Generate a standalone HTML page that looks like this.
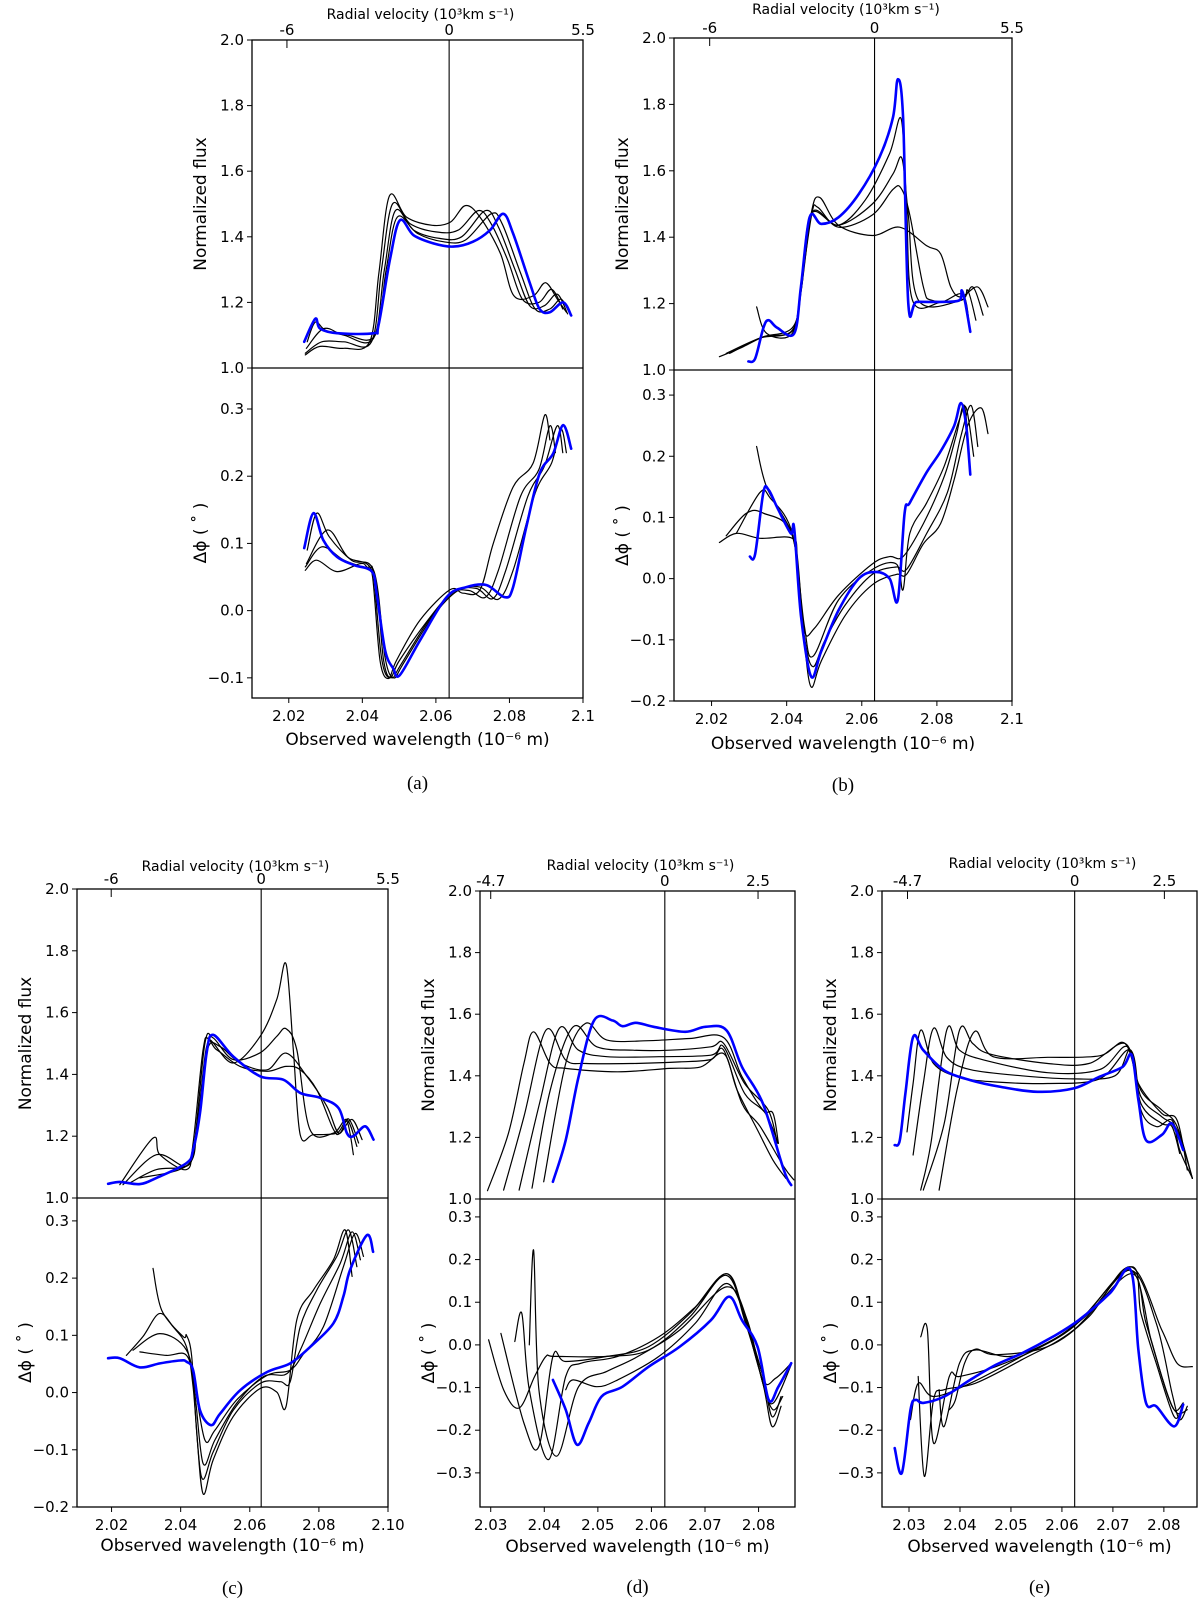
<!DOCTYPE html>
<html><head><meta charset="utf-8">
<style>
html,body{margin:0;padding:0;background:#fff;}
svg{display:block;font-family:"DejaVu Sans","Liberation Sans",sans-serif;}
.tk{font-size:15px;fill:#000;}
.al{font-size:17px;fill:#000;}
.tt{font-size:14px;fill:#000;}
.cap{font-family:"Liberation Serif",serif;font-size:19px;fill:#000;}
</style></head>
<body>
<svg id="fig" width="1200" height="1605" viewBox="0 0 1200 1605" xmlns="http://www.w3.org/2000/svg"></svg>
<script>
// ---------- Panel (a) ----------
const aFluxBlue=[[2.0242,1.08],[2.0272,1.15],[2.0285,1.12],[2.0331,1.106],[2.043,1.106],[2.0444,1.13],[2.0475,1.33],[2.0502,1.45],[2.0539,1.405],[2.0593,1.38],[2.0647,1.37],[2.0701,1.385],[2.0747,1.42],[2.0783,1.47],[2.081,1.41],[2.0855,1.26],[2.0882,1.18],[2.091,1.17],[2.0946,1.2],[2.0968,1.16]];
const aFluxBlack=[
[[2.0245,1.04],[2.0285,1.066],[2.035,1.06],[2.042,1.08],[2.0445,1.29],[2.0474,1.525],[2.052,1.46],[2.059,1.435],[2.064,1.445],[2.068,1.495],[2.072,1.46],[2.0775,1.35],[2.0812,1.22],[2.0865,1.22],[2.0898,1.26],[2.093,1.21],[2.0955,1.17]],
[[2.0245,1.045],[2.029,1.08],[2.035,1.08],[2.0425,1.08],[2.0452,1.3],[2.0482,1.5],[2.053,1.44],[2.06,1.415],[2.066,1.42],[2.0715,1.48],[2.075,1.44],[2.0795,1.33],[2.0835,1.21],[2.088,1.2],[2.0915,1.24],[2.0945,1.18]],
[[2.0248,1.06],[2.0295,1.12],[2.035,1.10],[2.043,1.09],[2.046,1.3],[2.049,1.48],[2.054,1.42],[2.061,1.395],[2.067,1.40],[2.0735,1.48],[2.077,1.43],[2.0815,1.30],[2.0855,1.19],[2.0895,1.19],[2.093,1.225],[2.0958,1.165]],
[[2.025,1.08],[2.0272,1.14],[2.03,1.115],[2.036,1.10],[2.0435,1.10],[2.0465,1.3],[2.0495,1.46],[2.055,1.41],[2.062,1.385],[2.068,1.39],[2.075,1.47],[2.078,1.44],[2.083,1.29],[2.087,1.18],[2.091,1.18],[2.094,1.21],[2.0962,1.17]]];
const aPhaseBlue=[[2.0242,0.093],[2.0267,0.145],[2.0294,0.105],[2.0331,0.08],[2.0376,0.068],[2.0426,0.058],[2.0439,0.025],[2.0462,-0.059],[2.0484,-0.086],[2.0502,-0.096],[2.0557,-0.044],[2.0629,0.02],[2.0683,0.035],[2.0738,0.038],[2.0787,0.02],[2.081,0.035],[2.0846,0.125],[2.0882,0.204],[2.0919,0.234],[2.0946,0.276],[2.0968,0.241]];
const aPhaseBlack=[
[[2.0245,0.06],[2.0276,0.075],[2.0331,0.058],[2.0394,0.07],[2.0412,0.065],[2.0428,0.05],[2.0448,-0.074],[2.0471,-0.101],[2.0493,-0.074],[2.0557,-0.014],[2.0638,0.031],[2.0674,0.026],[2.072,0.031],[2.0756,0.1],[2.081,0.184],[2.0864,0.219],[2.0896,0.291],[2.091,0.254]],
[[2.0245,0.065],[2.029,0.095],[2.035,0.075],[2.0415,0.062],[2.043,0.055],[2.0452,-0.07],[2.0475,-0.1],[2.05,-0.075],[2.057,-0.02],[2.064,0.025],[2.069,0.03],[2.0735,0.02],[2.077,0.06],[2.083,0.17],[2.088,0.21],[2.091,0.275],[2.0925,0.235]],
[[2.0248,0.07],[2.0305,0.12],[2.036,0.08],[2.043,0.055],[2.0458,-0.075],[2.048,-0.1],[2.0505,-0.08],[2.058,-0.015],[2.065,0.028],[2.071,0.033],[2.0755,0.018],[2.079,0.06],[2.085,0.17],[2.0895,0.215],[2.093,0.275],[2.0945,0.235]],
[[2.025,0.09],[2.0276,0.145],[2.031,0.11],[2.037,0.075],[2.0432,0.058],[2.0462,-0.07],[2.0485,-0.1],[2.051,-0.08],[2.059,-0.01],[2.066,0.03],[2.072,0.035],[2.077,0.017],[2.081,0.06],[2.087,0.175],[2.0915,0.22],[2.094,0.27],[2.0955,0.235]]];
// ---------- Panel (b) ----------
const bFluxBlue=[[2.0298,1.026],[2.0316,1.034],[2.0338,1.127],[2.0352,1.15],[2.0375,1.127],[2.042,1.11],[2.0438,1.25],[2.0461,1.46],[2.0492,1.44],[2.0538,1.46],[2.0592,1.53],[2.0647,1.64],[2.0683,1.76],[2.0696,1.876],[2.071,1.76],[2.0724,1.2],[2.0746,1.205],[2.081,1.205],[2.086,1.21],[2.0866,1.24],[2.0875,1.205],[2.0889,1.115]];
const bFluxBlack=[
[[2.0221,1.04],[2.0284,1.07],[2.0338,1.1],[2.0415,1.127],[2.0438,1.235],[2.0465,1.47],[2.0488,1.52],[2.0538,1.436],[2.0628,1.405],[2.0701,1.43],[2.0773,1.374],[2.081,1.35],[2.0837,1.25],[2.0864,1.22],[2.0909,1.25],[2.0936,1.19]],
[[2.0239,1.05],[2.0329,1.096],[2.0415,1.12],[2.0438,1.25],[2.0467,1.47],[2.0483,1.49],[2.0538,1.43],[2.0628,1.467],[2.0683,1.544],[2.0705,1.547],[2.0728,1.467],[2.0764,1.25],[2.0787,1.21],[2.0864,1.21],[2.0896,1.25],[2.0923,1.165]],
[[2.032,1.19],[2.0347,1.11],[2.0415,1.11],[2.0438,1.25],[2.0465,1.47],[2.0538,1.436],[2.061,1.513],[2.0674,1.652],[2.0705,1.756],[2.0719,1.5],[2.0735,1.21],[2.081,1.204],[2.0869,1.227],[2.0887,1.13]],
[[2.0248,1.05],[2.0338,1.1],[2.0417,1.12],[2.044,1.25],[2.0467,1.474],[2.0538,1.436],[2.0628,1.5],[2.0683,1.59],[2.0707,1.637],[2.0724,1.467],[2.0751,1.21],[2.0864,1.21],[2.0882,1.24],[2.0904,1.15]]];
const bPhaseBlue=[[2.0302,0.036],[2.0316,0.04],[2.0338,0.141],[2.0352,0.145],[2.0375,0.116],[2.0411,0.074],[2.042,0.082],[2.0438,-0.06],[2.0465,-0.16],[2.0492,-0.119],[2.0538,-0.052],[2.0592,0.0],[2.0637,0.011],[2.0674,0.0],[2.0696,-0.035],[2.0714,0.107],[2.0728,0.124],[2.0773,0.174],[2.081,0.208],[2.0846,0.25],[2.0864,0.287],[2.0878,0.25],[2.0889,0.17]];
const bPhaseBlack=[
[[2.0221,0.059],[2.0266,0.074],[2.0329,0.066],[2.0415,0.066],[2.0429,0.032],[2.0447,-0.102],[2.0465,-0.177],[2.0492,-0.135],[2.0556,-0.06],[2.0628,-0.01],[2.0692,0.007],[2.0719,0.007],[2.0764,0.057],[2.081,0.09],[2.0846,0.162],[2.0882,0.25],[2.0918,0.279],[2.0936,0.237]],
[[2.032,0.216],[2.0347,0.149],[2.0411,0.078],[2.0429,0.024],[2.0447,-0.085],[2.0474,-0.081],[2.0538,-0.027],[2.0628,0.024],[2.0674,0.036],[2.071,0.036],[2.0764,0.09],[2.0819,0.166],[2.0851,0.233],[2.0873,0.283],[2.0887,0.191]],
[[2.0239,0.07],[2.0293,0.107],[2.0338,0.107],[2.0415,0.07],[2.0447,-0.094],[2.047,-0.144],[2.0501,-0.102],[2.0556,-0.043],[2.0628,0.007],[2.0692,0.019],[2.0719,0.015],[2.0773,0.074],[2.0828,0.141],[2.0864,0.233],[2.0891,0.283],[2.0909,0.216]],
[[2.0266,0.074],[2.0329,0.141],[2.0356,0.132],[2.0415,0.074],[2.0447,-0.077],[2.047,-0.127],[2.0538,-0.035],[2.0628,0.015],[2.0692,0.024],[2.071,-0.018],[2.0728,0.074],[2.0773,0.124],[2.0819,0.183],[2.0859,0.258],[2.0878,0.279],[2.0898,0.2]]];
// ---------- Panel (c) ----------
const cFluxBlue=[[2.019,1.046],[2.0224,1.052],[2.0282,1.045],[2.033,1.065],[2.0417,1.113],[2.0436,1.156],[2.0456,1.275],[2.0475,1.469],[2.0494,1.528],[2.0552,1.458],[2.063,1.394],[2.0697,1.383],[2.0746,1.34],[2.0804,1.324],[2.0857,1.291],[2.0881,1.21],[2.09,1.2],[2.0934,1.232],[2.0958,1.189]];
const cFluxBlack=[
[[2.0224,1.043],[2.032,1.194],[2.034,1.14],[2.0417,1.092],[2.0436,1.178],[2.0465,1.48],[2.0485,1.512],[2.0552,1.437],[2.063,1.523],[2.0678,1.642],[2.0705,1.757],[2.0726,1.48],[2.0746,1.205],[2.0784,1.205],[2.0852,1.21],[2.0881,1.248],[2.09,1.14]],
[[2.0233,1.043],[2.033,1.14],[2.0417,1.103],[2.0441,1.19],[2.047,1.5],[2.0494,1.518],[2.0552,1.448],[2.063,1.47],[2.0678,1.523],[2.0705,1.548],[2.0736,1.48],[2.0774,1.222],[2.0842,1.21],[2.0881,1.254],[2.091,1.167]],
[[2.0253,1.049],[2.033,1.092],[2.0422,1.108],[2.0446,1.21],[2.0475,1.49],[2.0504,1.48],[2.0572,1.426],[2.065,1.41],[2.0705,1.426],[2.0746,1.415],[2.0794,1.35],[2.0842,1.222],[2.0862,1.21],[2.0896,1.254],[2.0925,1.189]],
[[2.0282,1.065],[2.0422,1.108],[2.0448,1.243],[2.0477,1.48],[2.0514,1.49],[2.0572,1.437],[2.065,1.415],[2.0705,1.469],[2.0765,1.394],[2.0823,1.297],[2.0857,1.21],[2.0886,1.256],[2.0915,1.178]]];
const cPhaseBlue=[[2.019,0.06],[2.0224,0.06],[2.0282,0.044],[2.034,0.051],[2.0398,0.056],[2.0417,0.054],[2.0436,0.039],[2.0456,-0.031],[2.0488,-0.057],[2.0514,-0.037],[2.0572,0.004],[2.065,0.036],[2.0717,0.051],[2.0775,0.08],[2.0842,0.121],[2.0871,0.168],[2.089,0.214],[2.0939,0.275],[2.0957,0.246]];
const cPhaseBlack=[
[[2.032,0.217],[2.0345,0.144],[2.0407,0.098],[2.0417,0.1],[2.0432,0.063],[2.0446,-0.066],[2.0465,-0.177],[2.0494,-0.118],[2.0552,-0.042],[2.063,0.007],[2.0678,0.001],[2.0705,-0.024],[2.0736,0.127],[2.0784,0.179],[2.0842,0.232],[2.0876,0.284],[2.0896,0.203]],
[[2.0243,0.065],[2.0291,0.098],[2.0338,0.138],[2.0378,0.115],[2.0417,0.08],[2.0436,0.01],[2.046,-0.147],[2.0494,-0.104],[2.0552,-0.031],[2.063,0.016],[2.0688,0.019],[2.0717,0.019],[2.0746,0.115],[2.0794,0.179],[2.0852,0.238],[2.0886,0.284],[2.091,0.22]],
[[2.0262,0.074],[2.034,0.103],[2.0417,0.074],[2.0441,-0.002],[2.0465,-0.124],[2.0499,-0.083],[2.0562,-0.019],[2.064,0.028],[2.0707,0.033],[2.0746,0.074],[2.0804,0.156],[2.0862,0.226],[2.0896,0.281],[2.092,0.232]],
[[2.0282,0.071],[2.0359,0.065],[2.0417,0.065],[2.0441,0.01],[2.047,-0.083],[2.0499,-0.066],[2.0562,-0.013],[2.065,0.03],[2.0717,0.039],[2.0756,0.068],[2.0813,0.115],[2.0871,0.22],[2.0905,0.278],[2.0929,0.238]]];
// ---------- Panel (d) ----------
const dFluxBlue=[[2.0416,1.056],[2.044,1.191],[2.0464,1.397],[2.0493,1.58],[2.0527,1.58],[2.0546,1.561],[2.0571,1.572],[2.0604,1.559],[2.0663,1.543],[2.0701,1.559],[2.074,1.548],[2.0769,1.429],[2.0808,1.31],[2.0847,1.094],[2.0861,1.045]];
const dFluxBlack=[
[[2.0294,1.027],[2.0333,1.213],[2.0362,1.44],[2.038,1.543],[2.0411,1.44],[2.044,1.424],[2.0537,1.413],[2.0634,1.424],[2.0692,1.429],[2.0735,1.472],[2.076,1.354],[2.0798,1.224],[2.0827,1.126],[2.0851,1.067]],
[[2.0324,1.029],[2.0362,1.267],[2.0403,1.548],[2.044,1.451],[2.0478,1.44],[2.0566,1.44],[2.0653,1.445],[2.0711,1.453],[2.0735,1.483],[2.0769,1.31],[2.0803,1.235],[2.0847,1.105],[2.0866,1.062]],
[[2.0353,1.029],[2.0391,1.31],[2.0428,1.554],[2.0464,1.483],[2.0517,1.462],[2.0614,1.462],[2.0711,1.467],[2.0735,1.494],[2.0774,1.343],[2.0813,1.278],[2.0837,1.181]],
[[2.0377,1.035],[2.0411,1.353],[2.0454,1.559],[2.0498,1.494],[2.0566,1.483],[2.0634,1.483],[2.0711,1.494],[2.0735,1.505],[2.0774,1.375],[2.0818,1.289],[2.0835,1.181]],
[[2.0399,1.056],[2.044,1.44],[2.0477,1.57],[2.0517,1.516],[2.0595,1.514],[2.0671,1.521],[2.0735,1.524],[2.0769,1.397],[2.0808,1.289],[2.0827,1.278],[2.0837,1.181]]];
const dPhaseBlue=[[2.0416,-0.082],[2.044,-0.152],[2.0461,-0.234],[2.0483,-0.183],[2.0507,-0.121],[2.0546,-0.098],[2.0595,-0.051],[2.0653,-0.004],[2.0711,0.058],[2.0745,0.113],[2.0769,0.058],[2.0798,-0.004],[2.0819,-0.129],[2.0837,-0.098],[2.0861,-0.043]];
const dPhaseBlack=[
[[2.0296,0.012],[2.0324,-0.105],[2.0353,-0.148],[2.0382,-0.074],[2.0403,-0.027],[2.042,-0.027],[2.0517,-0.027],[2.0595,-0.012],[2.0672,0.066],[2.074,0.167],[2.0774,0.066],[2.0808,-0.082],[2.0832,-0.078],[2.0861,-0.043]],
[[2.0319,0.027],[2.0362,-0.183],[2.039,-0.238],[2.0416,-0.027],[2.044,-0.039],[2.0517,-0.027],[2.0595,-0.004],[2.0672,0.074],[2.074,0.167],[2.0774,0.058],[2.0808,-0.09],[2.0825,-0.191],[2.0842,-0.144]],
[[2.0345,0.008],[2.0358,0.074],[2.0372,-0.105],[2.0408,-0.269],[2.044,-0.074],[2.0469,-0.043],[2.0537,-0.027],[2.0614,0.019],[2.0682,0.089],[2.074,0.163],[2.0774,0.066],[2.0808,-0.074],[2.0825,-0.168],[2.0842,-0.121]],
[[2.0372,0.0],[2.038,0.222],[2.039,-0.105],[2.0423,-0.261],[2.0464,-0.098],[2.0517,-0.062],[2.0575,-0.027],[2.0653,0.035],[2.074,0.136],[2.0779,0.058],[2.0808,-0.09],[2.0827,-0.137],[2.0861,-0.047]],
[[2.044,-0.105],[2.0454,-0.082],[2.0498,-0.098],[2.0537,-0.082],[2.0614,-0.027],[2.0682,0.051],[2.074,0.144],[2.0779,0.051],[2.0808,-0.09],[2.0827,-0.152],[2.0845,-0.121]]];
// ---------- Panel (e) ----------
const eFluxBlue=[[2.0272,1.175],[2.0282,1.191],[2.0293,1.343],[2.0308,1.526],[2.0328,1.483],[2.0369,1.418],[2.042,1.386],[2.048,1.364],[2.0552,1.348],[2.0623,1.359],[2.0674,1.397],[2.0719,1.429],[2.0737,1.467],[2.075,1.321],[2.0765,1.191],[2.0796,1.208],[2.0816,1.245],[2.0838,1.159]];
const eFluxBlack=[
[[2.0296,1.218],[2.0308,1.375],[2.0323,1.548],[2.0348,1.44],[2.0399,1.395],[2.047,1.38],[2.0572,1.375],[2.0674,1.39],[2.0735,1.483],[2.0755,1.289],[2.0785,1.235],[2.0816,1.256],[2.0831,1.159],[2.0856,1.067]],
[[2.0308,1.143],[2.0328,1.375],[2.0348,1.554],[2.0374,1.46],[2.042,1.42],[2.0521,1.40],[2.0623,1.39],[2.0704,1.40],[2.0735,1.483],[2.0755,1.31],[2.0796,1.245],[2.0816,1.235],[2.0831,1.148]],
[[2.0323,1.029],[2.0343,1.181],[2.0374,1.548],[2.0399,1.483],[2.045,1.45],[2.0572,1.41],[2.0674,1.42],[2.0729,1.494],[2.0755,1.332],[2.0796,1.267],[2.0826,1.224],[2.0856,1.067]],
[[2.0328,1.029],[2.0369,1.245],[2.0399,1.548],[2.0425,1.505],[2.046,1.47],[2.0572,1.44],[2.0653,1.44],[2.0724,1.505],[2.075,1.375],[2.0796,1.278],[2.0826,1.256],[2.0846,1.094]],
[[2.0359,1.029],[2.0394,1.353],[2.0428,1.543],[2.0465,1.462],[2.0572,1.46],[2.0674,1.465],[2.0724,1.505],[2.0755,1.353],[2.0796,1.289],[2.0826,1.235],[2.0856,1.067]]];
const ePhaseBlue=[[2.0272,-0.242],[2.0286,-0.3],[2.0303,-0.152],[2.0313,-0.129],[2.0328,-0.136],[2.0369,-0.121],[2.042,-0.082],[2.047,-0.047],[2.0521,-0.02],[2.0582,0.019],[2.0633,0.058],[2.0694,0.121],[2.0735,0.175],[2.075,-0.012],[2.0765,-0.136],[2.0785,-0.144],[2.082,-0.191],[2.0838,-0.14]];
const ePhaseBlack=[
[[2.0303,-0.175],[2.0318,-0.09],[2.0348,-0.121],[2.042,-0.09],[2.0521,-0.027],[2.0623,0.043],[2.0735,0.183],[2.0755,0.074],[2.0785,-0.043],[2.082,-0.168],[2.0836,-0.144]],
[[2.0318,-0.074],[2.033,-0.308],[2.0348,-0.129],[2.0369,-0.105],[2.043,-0.09],[2.0521,-0.035],[2.0623,0.035],[2.0735,0.167],[2.0765,0.051],[2.0796,-0.074],[2.082,-0.152],[2.0838,-0.136]],
[[2.0323,0.019],[2.0336,0.035],[2.0348,-0.23],[2.0379,-0.074],[2.0399,-0.074],[2.047,-0.051],[2.0572,0.004],[2.0643,0.066],[2.0735,0.175],[2.0775,0.012],[2.0806,-0.113],[2.0826,-0.16],[2.0846,-0.152]],
[[2.0359,-0.105],[2.0369,-0.191],[2.0399,-0.043],[2.043,-0.012],[2.05,-0.027],[2.0582,0.012],[2.0653,0.074],[2.0735,0.175],[2.0785,0.051],[2.0816,-0.113],[2.0831,-0.175],[2.0846,-0.144]],
[[2.0379,-0.152],[2.0391,-0.129],[2.0409,-0.043],[2.043,-0.01],[2.047,-0.023],[2.0572,-0.004],[2.0653,0.066],[2.0735,0.183],[2.0796,0.035],[2.0826,-0.043],[2.0856,-0.051]]];
// ---------- Axis tick arrays ----------
const fluxTicks=[1.0,1.2,1.4,1.6,1.8,2.0];
const phaseTicksAB=[-0.1,0.0,0.1,0.2,0.3];
const phaseTicksBC=[-0.2,-0.1,0.0,0.1,0.2,0.3];
const phaseTicksDE=[-0.3,-0.2,-0.1,0.0,0.1,0.2,0.3];
const wlTicksABC=[2.02,2.04,2.06,2.08,2.10];
const wlTickLabelsAB=["2.02","2.04","2.06","2.08","2.1"];
const wlTickLabelsC=["2.02","2.04","2.06","2.08","2.10"];
const wlTicksDE=[2.03,2.04,2.05,2.06,2.07,2.08];
const wlTickLabelsDE=["2.03","2.04","2.05","2.06","2.07","2.08"];

const NS="http://www.w3.org/2000/svg";
const svg=document.getElementById('fig');
function mk(tag,attrs,parent){const e=document.createElementNS(NS,tag);for(const k in attrs)e.setAttribute(k,attrs[k]);(parent||svg).appendChild(e);return e;}
function fmtPh(v){return v<0?"\u2212"+Math.abs(v).toFixed(1):v.toFixed(1);}

const panels=[
 {id:'a',L:252,R:583,T:40,M:368,B:698,x0:2.01,x1:2.10,p0:-0.13,p1:0.361,pt:phaseTicksAB,xt:wlTicksABC,xl:wlTickLabelsAB,vl:2.0636,vlo:[{t:'-6',w:2.0195,tick:true},{t:'5.5',w:2.10,tick:false}],ty:14,cy:783,xly:739,fb:aFluxBlue,fk:aFluxBlack,pb:aPhaseBlue,pk:aPhaseBlack},
 {id:'b',L:674,R:1012,T:38,M:370,B:701,x0:2.01,x1:2.10,p0:-0.2,p1:0.341,pt:phaseTicksBC,xt:wlTicksABC,xl:wlTickLabelsAB,vl:2.0634,vlo:[{t:'-6',w:2.0195,tick:true},{t:'5.5',w:2.10,tick:false}],ty:9,cy:785,xly:743,fb:bFluxBlue,fk:bFluxBlack,pb:bPhaseBlue,pk:bPhaseBlack},
 {id:'c',L:77,R:388,T:889,M:1198,B:1507,x0:2.01,x1:2.10,p0:-0.2,p1:0.34,pt:phaseTicksBC,xt:wlTicksABC,xl:wlTickLabelsC,vl:2.0633,vlo:[{t:'-6',w:2.0199,tick:true},{t:'5.5',w:2.10,tick:false}],ty:866,cy:1588,xly:1545,fb:cFluxBlue,fk:cFluxBlack,pb:cPhaseBlue,pk:cPhaseBlack},
 {id:'d',L:480,R:795,T:891,M:1199,B:1507,x0:2.028,x1:2.0868,p0:-0.38,p1:0.342,pt:phaseTicksDE,xt:wlTicksDE,xl:wlTickLabelsDE,vl:2.0625,vlo:[{t:'-4.7',w:2.03,tick:true},{t:'2.5',w:2.0799,tick:true}],ty:865,cy:1587,xly:1546,fb:dFluxBlue,fk:dFluxBlack,pb:dPhaseBlue,pk:dPhaseBlack},
 {id:'e',L:882,R:1197,T:891,M:1199,B:1507,x0:2.0247,x1:2.0865,p0:-0.38,p1:0.342,pt:phaseTicksDE,xt:wlTicksDE,xl:wlTickLabelsDE,vl:2.0625,vlo:[{t:'-4.7',w:2.0297,tick:true},{t:'2.5',w:2.0801,tick:true}],ty:863,cy:1587,xly:1546,fb:eFluxBlue,fk:eFluxBlack,pb:ePhaseBlue,pk:ePhaseBlack}
];

// smooth Catmull-Rom path through the data points
function pathD(pts,xs,ys){
 const P=pts.map(p=>[xs(p[0]),ys(p[1])]);
 let d='M'+P[0][0].toFixed(1)+','+P[0][1].toFixed(1);
 const t=0.5/3;
 for(let i=0;i<P.length-1;i++){
  const p0=P[i?i-1:0],p1=P[i],p2=P[i+1],p3=P[i+2<P.length?i+2:i+1];
  const c1x=p1[0]+(p2[0]-p0[0])*t,c1y=p1[1]+(p2[1]-p0[1])*t;
  const c2x=p2[0]-(p3[0]-p1[0])*t,c2y=p2[1]-(p3[1]-p1[1])*t;
  d+='C'+c1x.toFixed(1)+','+c1y.toFixed(1)+' '+c2x.toFixed(1)+','+c2y.toFixed(1)+' '+p2[0].toFixed(1)+','+p2[1].toFixed(1);
 }
 return d;
}

panels.forEach(P=>{
 const g=mk('g',{});
 
 
 const xs=w=>P.L+(w-P.x0)/(P.x1-P.x0)*(P.R-P.L);
 const yf=f=>P.M-(f-1.0)/(2.0-1.0)*(P.M-P.T);
 const yp=v=>P.B-(v-P.p0)/(P.p1-P.p0)*(P.B-P.M);
 const cu=mk('clipPath',{id:'cu'+P.id},g);mk('rect',{x:P.L,y:P.T,width:P.R-P.L,height:P.M-P.T},cu);
 const cl=mk('clipPath',{id:'cl'+P.id},g);mk('rect',{x:P.L,y:P.M,width:P.R-P.L,height:P.B-P.M},cl);
 const vx=xs(P.vl);
 const vline=mk('line',{x1:vx,y1:P.T,x2:vx,y2:P.B,stroke:'#000','stroke-width':1.1},g);
 
 
 const gu=mk('g',{'clip-path':'url(#cu'+P.id+')',fill:'none','stroke-linejoin':'round','stroke-linecap':'round'},g);
 P.fk.forEach((c,i)=>{const e=mk('path',{d:pathD(c,xs,yf),stroke:'#000','stroke-width':1.2},gu);
  
  });
 const fb=mk('path',{d:pathD(P.fb,xs,yf),stroke:'#0000ff','stroke-width':2.6},gu);
 
 
 const gl=mk('g',{'clip-path':'url(#cl'+P.id+')',fill:'none','stroke-linejoin':'round','stroke-linecap':'round'},g);
 P.pk.forEach((c,i)=>{const e=mk('path',{d:pathD(c,xs,yp),stroke:'#000','stroke-width':1.2},gl);
  
  });
 const pb=mk('path',{d:pathD(P.pb,xs,yp),stroke:'#0000ff','stroke-width':2.6},gl);
 
 
 const fr=mk('rect',{x:P.L,y:P.T,width:P.R-P.L,height:P.B-P.T,fill:'none',stroke:'#000','stroke-width':1.3},g);
 
 
 mk('line',{x1:P.L,y1:P.M,x2:P.R,y2:P.M,stroke:'#000','stroke-width':1.3},g);
 fluxTicks.forEach(f=>{const y=yf(f);mk('line',{x1:P.L-5,y1:y,x2:P.L,y2:y,stroke:'#000','stroke-width':1},g);
  const t=mk('text',{x:P.L-8,y:y+5,'text-anchor':'end',class:'tk'},g);t.textContent=f.toFixed(1);
  
  });
 P.pt.forEach(v=>{const y=yp(v);mk('line',{x1:P.L-5,y1:y,x2:P.L,y2:y,stroke:'#000','stroke-width':1},g);
  const t=mk('text',{x:P.L-8,y:y+5,'text-anchor':'end',class:'tk'},g);t.textContent=fmtPh(v);
  
  });
 P.xt.forEach((w,i)=>{const x=xs(w);mk('line',{x1:x,y1:P.B,x2:x,y2:P.B+5,stroke:'#000','stroke-width':1},g);
  const t=mk('text',{x:x,y:P.B+23,'text-anchor':'middle',class:'tk'},g);t.textContent=P.xl[i];
  
  });
 P.vlo.forEach(o=>{const x=xs(o.w);if(o.tick)mk('line',{x1:x,y1:P.T,x2:x,y2:P.T+8,stroke:'#000','stroke-width':1},g);
  const t=mk('text',{x:x,y:P.T-5,'text-anchor':'middle',class:'tk'},g);t.textContent=o.t;
  
  });
 const z=mk('text',{x:vx,y:P.T-5,'text-anchor':'middle',class:'tk'},g);z.textContent='0';
 
 
 const tt=mk('text',{x:(P.L+P.R)/2+3,y:P.ty+5,'text-anchor':'middle',class:'tt'},g);tt.textContent='Radial velocity (10\u00B3km s\u207B\u00B9)';
 
 
 const yu=(P.T+P.M)/2,yl=(P.M+P.B)/2,lx=P.L-46;
 const t1=mk('text',{x:lx,y:yu,'text-anchor':'middle',class:'al',transform:'rotate(-90 '+lx+' '+yu+')'},g);t1.textContent='Normalized flux';
 
 
 const t2=mk('text',{x:lx,y:yl,'text-anchor':'middle',class:'al',transform:'rotate(-90 '+lx+' '+yl+')'},g);
 t2.textContent='\u0394\u03D5 ( \u02DA )';
 
 
 const t3=mk('text',{x:(P.L+P.R)/2,y:P.xly+6,'text-anchor':'middle',class:'al'},g);t3.textContent='Observed wavelength (10\u207B\u2076 m)';
 
 
 const t4=mk('text',{x:(P.L+P.R)/2,y:P.cy+6,'text-anchor':'middle',class:'cap'},g);t4.textContent='('+P.id+')';
 
 
});
</script>
</body></html>
